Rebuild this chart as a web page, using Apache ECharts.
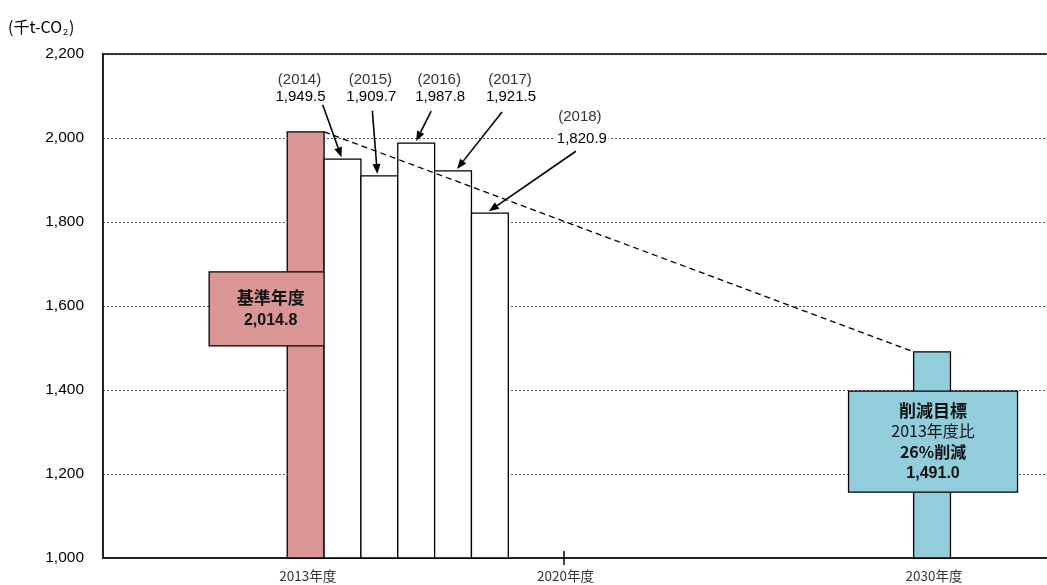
<!DOCTYPE html>
<html><head><meta charset="utf-8">
<script src="https://cdn.jsdelivr.net/npm/echarts@6/dist/echarts.min.js"></script>
<style>html,body{margin:0;padding:0;background:#fff}#c{width:1047px;height:585px}</style>
</head><body><div id="c"></div>
<script>
// ---- data ----
const baseYear = 2013;
const baseValue = 2014.8;
const actualYears = [2014, 2015, 2016, 2017, 2018];
const actualValues = [1949.5, 1909.7, 1987.8, 1921.5, 1820.9];
const targetYear = 2030;
const targetValue = 1491.0;
const xLabelYears = [2013, 2020, 2030];
const xTickYears = [2020];
const yMin = 1000, yMax = 2200, yStep = 200;
const xMin = 2007.5, xMax = 2033.12;   // visible year range of the plot

// ---- layout / style (pixel offsets from each bar's top centre) ----
const calloutLayout = [
  {text:[-42,-62], year:[-43,-79], tail:[-20,-55], head:[-1,-2]},
  {text:[-8,-79],  year:[-9,-96],  tail:[-7,-65],  head:[-2,-2]},
  {text:[24,-46],  year:[23,-63],  tail:[15,-32],  head:[0,-2]},
  {text:[58,-74],  year:[57,-91],  tail:[49,-59],  head:[4,-2]},
  {text:[92,-74],  year:[90,-96],  tail:[86,-62],  head:[-1,-2]}
];
const baseBox = {dx:-35, yValue:1593, w:123, h:74, lh:23};
const targetBox = {dx:1, yValue:1277, w:169, h:101, lh:21};
const PINK = '#d99694', BLUE = '#92cddc';
const LATIN = '"Liberation Sans", Arial, sans-serif';
const CJK = '"Noto Sans CJK JP", "Liberation Sans", sans-serif';

const fmt = v => v.toLocaleString('en-US', {minimumFractionDigits:1, maximumFractionDigits:1});
const cutPct = Math.round((1 - targetValue / baseValue) * 100);

function barRect(api, x, v) {
  const p0 = api.coord([x - 0.5, v]);
  const p1 = api.coord([x + 0.5, yMin]);
  return {x:p0[0], y:p0[1], width:p1[0]-p0[0], height:p1[1]-p0[1]};
}
function boxGroup(api, x, box, fill, lines) {
  const cx = api.coord([x, yMin])[0] + box.dx;
  const cy = api.coord([x, box.yValue])[1];
  const children = [{type:'rect', shape:{x:cx-box.w/2, y:cy-box.h/2, width:box.w, height:box.h},
    style:{fill:fill, stroke:'#000', lineWidth:1.3}}];
  const n = lines.length;
  lines.forEach((ln, i) => {
    children.push({type:'text', x:cx, y:cy + (i - (n-1)/2) * box.lh,
      style:{text:ln.t, font:ln.f, fill:'#111', align:'center', verticalAlign:'middle'}});
  });
  return children;
}

const chart = echarts.init(document.getElementById('c'), null, {renderer:'canvas'});
chart.setOption({
  animation:false,
  backgroundColor:'#fff',
  title:{
    text:'{a|(千t-CO}{s|2}{a|)}', left:8, top:17, padding:0,
    textStyle:{fontWeight:'normal', rich:{
      a:{fontSize:16, fontFamily:CJK, fontWeight:'normal', color:'#000', lineHeight:20},
      s:{fontSize:9, fontFamily:LATIN, fontWeight:'normal', color:'#000', lineHeight:20, verticalAlign:'bottom', padding:[6,1,0,1]}
    }}
  },
  grid:[
    {left:103, top:54, right:0, bottom:27, show:false},
    {left:103, top:54, right:0, bottom:27, show:false}
  ],
  xAxis:[
    {type:'value', gridIndex:0, min:xMin, max:xMax, position:'bottom',
      axisLine:{show:true, lineStyle:{color:'#222', width:2}},
      axisTick:{show:true, customValues:xTickYears, length:7, lineStyle:{color:'#000', width:1.5}},
      axisLabel:{customValues:xLabelYears, formatter:v => v + '年度', margin:11,
        fontFamily:CJK, fontSize:13.5, color:'#333', padding:[0,0,0,4]},
      splitLine:{show:false}},
    {type:'value', gridIndex:1, min:xMin, max:xMax, position:'bottom',
      axisLine:{show:false}, axisLabel:{show:false}, splitLine:{show:false},
      axisTick:{show:true, inside:true, customValues:xTickYears, length:7, lineStyle:{color:'#000', width:1.5}}},
    {type:'value', gridIndex:1, min:xMin, max:xMax, position:'top',
      axisLine:{show:true, lineStyle:{color:'#000', width:1.5}},
      axisTick:{show:false}, axisLabel:{show:false}, splitLine:{show:false}}
  ],
  yAxis:[
    {type:'value', gridIndex:0, min:yMin, max:yMax, interval:yStep,
      axisLine:{show:true, lineStyle:{color:'#222', width:2}},
      axisTick:{show:false},
      axisLabel:{formatter:v => v.toLocaleString('en-US'), fontFamily:LATIN, fontSize:15.5, color:'#000', margin:19},
      splitLine:{show:true, lineStyle:{color:'#555', width:1, type:[2,2]}}},
    {type:'value', gridIndex:1, min:yMin, max:yMax, show:false}
  ],
  series:[
    { // base year bar + box
      type:'custom', xAxisIndex:0, yAxisIndex:0, z:2, silent:true,
      data:[[baseYear, baseValue]],
      renderItem:(params, api) => {
        const x = api.value(0), v = api.value(1);
        return {type:'group', children:[
          {type:'rect', shape:barRect(api, x, v), style:{fill:PINK, stroke:'#000', lineWidth:1.3}},
          ...boxGroup(api, x, baseBox, PINK, [
            {t:'基準年度', f:'bold 17px ' + CJK},
            {t:fmt(v), f:'bold 16px ' + LATIN}
          ])
        ]};
      }
    },
    { // actual bars
      type:'custom', xAxisIndex:0, yAxisIndex:0, z:2, silent:true,
      data:actualYears.map((y, i) => [y, actualValues[i]]),
      renderItem:(params, api) => ({type:'rect', shape:barRect(api, api.value(0), api.value(1)),
        style:{fill:'#fff', stroke:'#000', lineWidth:1.3}})
    },
    { // target bar + box
      type:'custom', xAxisIndex:0, yAxisIndex:0, z:2, silent:true,
      data:[[targetYear, targetValue]],
      renderItem:(params, api) => {
        const x = api.value(0), v = api.value(1);
        return {type:'group', children:[
          {type:'rect', shape:barRect(api, x, v), style:{fill:BLUE, stroke:'#000', lineWidth:1.3}},
          ...boxGroup(api, x, targetBox, BLUE, [
            {t:'削減目標', f:'bold 17px ' + CJK},
            {t:baseYear + '年度比', f:'16px ' + CJK},
            {t:cutPct + '%削減', f:'bold 16px ' + CJK},
            {t:fmt(v), f:'bold 16px ' + LATIN}
          ])
        ]};
      }
    },
    { // trend line
      type:'line', xAxisIndex:0, yAxisIndex:0, z:3, silent:true, symbol:'none',
      data:[[baseYear + 0.5, baseValue], [targetYear - 0.5, targetValue]],
      lineStyle:{color:'#000', width:1.3, type:[6,4]}
    },
    { // callouts
      type:'custom', xAxisIndex:0, yAxisIndex:0, z:4, silent:true,
      data:actualYears.map((y, i) => [y, actualValues[i], i]),
      renderItem:(params, api) => {
        const x = api.value(0), v = api.value(1), L = calloutLayout[api.value(2)];
        const p = api.coord([x, v]);
        const tail = [p[0] + L.tail[0], p[1] + L.tail[1]];
        const head = [p[0] + L.head[0], p[1] + L.head[1]];
        const dx = head[0] - tail[0], dy = head[1] - tail[1], len = Math.hypot(dx, dy);
        const ux = dx / len, uy = dy / len, AL = 10, AW = 4;
        const bx = head[0] - ux * AL, by = head[1] - uy * AL;
        return {type:'group', children:[
          {type:'line', shape:{x1:tail[0], y1:tail[1], x2:bx, y2:by}, style:{stroke:'#000', lineWidth:1.6}},
          {type:'polygon', shape:{points:[head, [bx - uy*AW, by + ux*AW], [bx + uy*AW, by - ux*AW]]}, style:{fill:'#000'}},
          {type:'text', x:p[0] + L.year[0], y:p[1] + L.year[1],
            style:{text:'(' + x + ')', font:'15px ' + LATIN, fill:'#333', align:'center', verticalAlign:'middle'}},
          {type:'text', x:p[0] + L.text[0], y:p[1] + L.text[1],
            style:{text:fmt(v), font:'15px ' + LATIN, fill:'#000', align:'center', verticalAlign:'middle',
              backgroundColor:'#fff', padding:[0,2]}}
        ]};
      }
    }
  ]
});
</script></body></html>
